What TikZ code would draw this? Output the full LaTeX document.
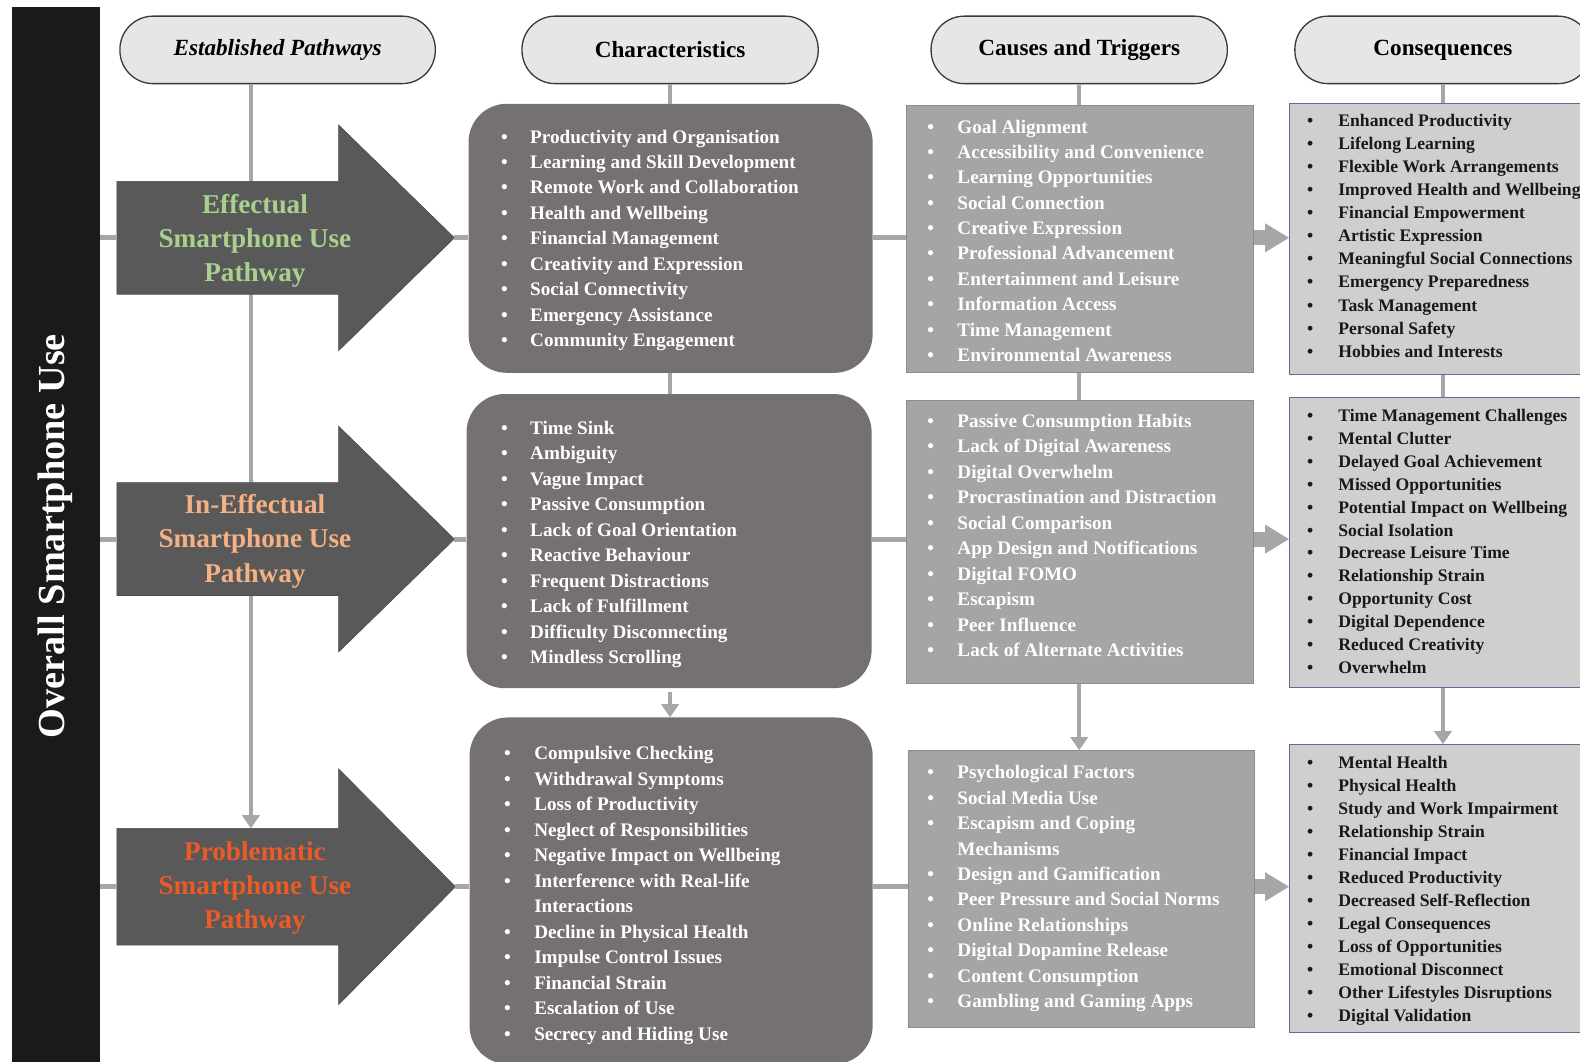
\documentclass[tikz,border=0pt]{standalone}
\usepackage{fontspec}
\setmainfont{Liberation Serif}
\usetikzlibrary{arrows.meta}
\definecolor{barblk}{HTML}{1A1A1A}
\definecolor{capfill}{HTML}{E7E6E6}
\definecolor{capline}{HTML}{3A3A3A}
\definecolor{linegray}{HTML}{A6A6A6}
\definecolor{arrowfill}{HTML}{595959}
\definecolor{charfill}{HTML}{767171}
\definecolor{causefill}{HTML}{A5A5A5}
\definecolor{causeline}{HTML}{8C8C8C}
\definecolor{consfill}{HTML}{D0CECE}
\definecolor{consline}{HTML}{5B6F96}
\definecolor{effgreen}{HTML}{A9D18E}
\definecolor{ineffpeach}{HTML}{F4B183}
\definecolor{probred}{HTML}{EA5B25}
\newcommand\itemlist[7]{%
  \foreach \b/\t [count=\i] in {#7}{%
    \pgfmathsetmacro\yy{#5+(\i-1)*#6}%
    \ifnum\b=1 \node[#2, anchor=base west] (#1-b\i) at (#3,\yy) {\textbullet};\fi
    \node[#2, anchor=base west] (#1-\i) at (#4,\yy) {\t};
  }}
\newcommand\bigarrow[5]{% name, yc, shaft half, head half, tip x
  \fill[arrowfill, draw=black!70, line width=0.6pt]
    (116,#2-#3) -- (336,#2-#3) -- (336,#2-#4) -- (#5,#2) -- (336,#2+#4)
    -- (336,#2+#3) -- (116,#2+#3) -- cycle;
  \coordinate (#1tail) at (116,#2);
  \coordinate (#1tip) at (#5,#2);
  \coordinate (#1top) at (249,#2-#3);
}
\begin{document}
\begin{tikzpicture}[x=1pt,y=-1pt,
  capsule/.style={draw=capline, fill=capfill, line width=1.3pt, rounded corners=33pt,
     minimum height=67pt, inner sep=0pt, font=\fontsize{23}{23}\selectfont\bfseries},
  charbox/.style={fill=charfill, rounded corners=38pt, inner sep=0pt},
  causebox/.style={fill=causefill, draw=causeline, line width=1pt, inner sep=0pt},
  consbox/.style={fill=consfill, draw=consline, line width=1pt, inner sep=0pt},
  witem/.style={inner sep=0pt, text=white, font=\fontsize{19}{19}\selectfont\bfseries},
  bitem/.style={inner sep=0pt, text=black!90, font=\fontsize{17.5}{17.5}\selectfont\bfseries},
  conn/.style={draw=linegray, line width=5pt},
  aconn/.style={draw=linegray, line width=4pt, -{Triangle[length=13pt,width=17pt]}},
  fatarrow/.style={draw=linegray, line width=15pt, -{Triangle[length=24pt,width=27pt]}},
  arrowtext/.style={align=center, inner sep=0pt, font=\fontsize{27}{34}\selectfont\bfseries}
]
\useasboundingbox (0,0) rectangle (1568,1053);
\clip (0,0) rectangle (1568,1053);
\fill[white] (0,0) rectangle (1568,1053);

% left bar
\node[fill=barblk, minimum width=87pt, minimum height=1060pt, inner sep=0pt, anchor=north west] (bar) at (12,7) {};
\node[rotate=90, text=white, font=\fontsize{38}{38}\selectfont\bfseries, inner sep=0pt] (bartext) at (55,532) {Overall Smartphone Use};

% headers
\node[capsule, minimum width=313pt] (hEst) at (275.5,49.5) {\itshape Established Pathways};
\node[capsule, minimum width=294pt] (hCh) at (665,49.5) {Characteristics};
\node[capsule, minimum width=294pt] (hCa) at (1071,49.5) {Causes and Triggers};
\node[capsule, minimum width=294pt] (hCo) at (1432,49.5) {Consequences};

% boxes
\node[charbox, minimum width=401pt, minimum height=267pt] (ch1) at (665.5,236.5) {};
\node[charbox, minimum width=402pt, minimum height=292pt] (ch2) at (664,537) {};
\node[charbox, minimum width=400pt, minimum height=344pt] (ch3) at (666,884) {};
\node[causebox, minimum width=344pt, minimum height=265pt] (ca1) at (1072,237.5) {};
\node[causebox, minimum width=344pt, minimum height=281pt] (ca2) at (1072,537.5) {};
\node[causebox, minimum width=343pt, minimum height=275pt] (ca3) at (1073.5,882.5) {};
\node[consbox, minimum width=304pt, minimum height=269pt] (co1) at (1432,237.5) {};
\node[consbox, minimum width=304pt, minimum height=288pt] (co2) at (1432,538) {};
\node[consbox, minimum width=304pt, minimum height=286pt] (co3) at (1432,882) {};

% established vertical line (behind arrows)
\coordinate (estx) at (249,0);
\bigarrow{a3}{880}{58}{117}{452}
\draw[aconn] (hEst.south -| estx) -- (a3top);
\bigarrow{a1}{236}{56}{112}{451}
\bigarrow{a2}{535}{56}{112}{451}

\node[arrowtext, text=effgreen] (pa1) at (253,239) {Effectual\\Smartphone Use\\Pathway};
\node[arrowtext, text=ineffpeach] (pa2) at (253,537) {In-Effectual\\Smartphone Use\\Pathway};
\node[arrowtext, text=probred] (pa3) at (253,881) {Problematic\\Smartphone Use\\Pathway};

% vertical connectors
\draw[conn, line width=4pt] (hCh.south) -- (ch1.north -| hCh.south);
\draw[conn, line width=4pt] (ch1.south -| hCh.south) -- (ch2.north -| hCh.south);
\draw[aconn] (ch2.south -| hCh.south) ++(0,4) -- (ch3.north -| hCh.south);
\draw[conn, line width=4pt] (hCa.south) -- (ca1.north -| hCa.south);
\draw[conn, line width=4pt] (ca1.south -| hCa.south) -- (ca2.north -| hCa.south);
\draw[aconn] (ca2.south -| hCa.south) -- (ca3.north -| hCa.south);
\draw[conn, line width=4pt] (hCo.south) -- (co1.north);
\draw[conn, line width=4pt] (co1.south) -- (co2.north);
\draw[aconn] (co2.south) -- (co3.north);

% horizontal connectors
\foreach \r in {1,2,3}{
  \draw[conn] (bar.east |- a\r tail) -- (a\r tail);
  \draw[conn] (a\r tip) -- (a\r tip -| ch\r.west);
  \draw[conn] (a\r tip -| ch\r.east) -- (a\r tip -| ca\r.west);
  \draw[fatarrow] (a\r tip -| ca\r.east) -- (a\r tip -| co\r.west);
}

% lists
\itemlist{l1}{witem}{497}{526}{142}{25.25}{1/Productivity and Organisation,1/Learning and Skill Development,1/Remote Work and Collaboration,1/Health and Wellbeing,1/Financial Management,1/Creativity and Expression,1/Social Connectivity,1/Emergency Assistance,1/Community Engagement}
\itemlist{l2}{witem}{497}{526}{431}{25.3}{1/Time Sink,1/Ambiguity,1/Vague Impact,1/Passive Consumption,1/Lack of Goal Orientation,1/Reactive Behaviour,1/Frequent Distractions,1/Lack of Fulfillment,1/Difficulty Disconnecting,1/Mindless Scrolling}
\itemlist{l3}{witem}{500}{530}{754}{25.3}{1/Compulsive Checking,1/Withdrawal Symptoms,1/Loss of Productivity,1/Neglect of Responsibilities,1/Negative Impact on Wellbeing,1/Interference with Real-life,0/Interactions,1/Decline in Physical Health,1/Impulse Control Issues,1/Financial Strain,1/Escalation of Use,1/Secrecy and Hiding Use}
\itemlist{m1}{witem}{920}{950}{132}{25.2}{1/Goal Alignment,1/Accessibility and Convenience,1/Learning Opportunities,1/Social Connection,1/Creative Expression,1/Professional Advancement,1/Entertainment and Leisure,1/Information Access,1/Time Management,1/Environmental Awareness}
\itemlist{m2}{witem}{920}{950}{424}{25.33}{1/Passive Consumption Habits,1/Lack of Digital Awareness,1/Digital Overwhelm,1/Procrastination and Distraction,1/Social Comparison,1/App Design and Notifications,1/Digital FOMO,1/Escapism,1/Peer Influence,1/Lack of Alternate Activities}
\itemlist{m3}{witem}{920}{950}{773}{25.2}{1/Psychological Factors,1/Social Media Use,1/Escapism and Coping,0/Mechanisms,1/Design and Gamification,1/Peer Pressure and Social Norms,1/Online Relationships,1/Digital Dopamine Release,1/Content Consumption,1/Gambling and Gaming Apps}
\itemlist{r1}{bitem}{1297}{1328}{125.5}{22.9}{1/Enhanced Productivity,1/Lifelong Learning,1/Flexible Work Arrangements,1/Improved Health and Wellbeing,1/Financial Empowerment,1/Artistic Expression,1/Meaningful Social Connections,1/Emergency Preparedness,1/Task Management,1/Personal Safety,1/Hobbies and Interests}
\itemlist{r2}{bitem}{1297}{1328}{418.5}{22.7}{1/Time Management Challenges,1/Mental Clutter,1/Delayed Goal Achievement,1/Missed Opportunities,1/Potential Impact on Wellbeing,1/Social Isolation,1/Decrease Leisure Time,1/Relationship Strain,1/Opportunity Cost,1/Digital Dependence,1/Reduced Creativity,1/Overwhelm}
\itemlist{r3}{bitem}{1297}{1328}{762.5}{22.8}{1/Mental Health,1/Physical Health,1/Study and Work Impairment,1/Relationship Strain,1/Financial Impact,1/Reduced Productivity,1/Decreased Self-Reflection,1/Legal Consequences,1/Loss of Opportunities,1/Emotional Disconnect,1/Other Lifestyles Disruptions,1/Digital Validation}
\end{tikzpicture}
\end{document}
